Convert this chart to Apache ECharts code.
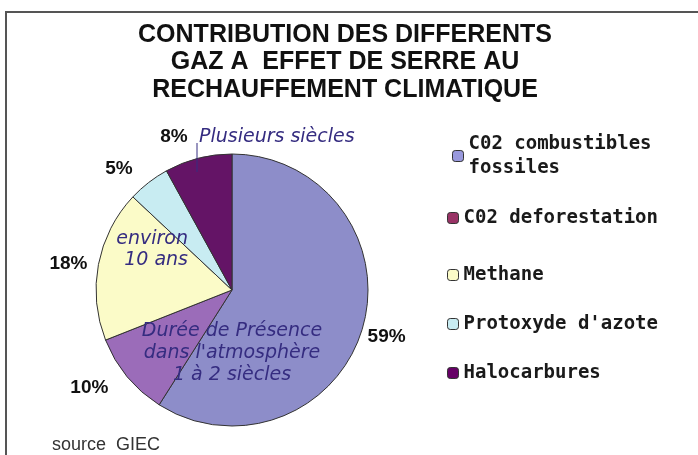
<!DOCTYPE html>
<html>
<head>
<meta charset="utf-8">
<script src="https://cdn.jsdelivr.net/npm/echarts@6/dist/echarts.min.js"></script>
<style>
  html, body { margin: 0; padding: 0; background: #fff; }
  #chart { width: 698px; height: 455px; }
</style>
</head>
<body>
<div id="chart"></div>
<script>
// gas names (legend order = slice order, clockwise from 12 o'clock)
const gazNames = ['C02 combustibles fossiles', 'C02 deforestation', 'Methane', "Protoxyde d'azote", 'Halocarbures']
// share of warming, %
const parts = [59, 10, 18, 5, 8]
const sliceColors = ['#8d8dc9', '#9b6cb9', '#fbfbc8', '#c8ecf2', '#641466']
const legendColors = ['#9999dd', '#993366', '#fbfbc8', '#c8ecf2', '#660066']
// how far each percent label sits off the rim
const labelOffsets = [0, 18, 6, 18, 22]
const legendTops = [120, 207, 264, 313, 362]
const legendLefts = [452, 447, 447, 447, 447]

const annotColor = '#352c80'
const annotFont = 'DejaVu Sans'

const myChart = echarts.init(document.getElementById('chart'))

const legendText = {
  fontFamily: 'DejaVu Sans Mono',
  fontWeight: 'bold',
  fontSize: 19,
  lineHeight: 22,
  color: '#1a1a1a'
}

let legends = []
gazNames.forEach((name, i) => {
  let ts = Object.assign({}, legendText)
  if (i === 0) {
    // two-line label, icon on the first line
    ts.lineHeight = 24
    ts.padding = [24, 0, 0, 0]
  }
  legends.push({
    data: [{ name: name, itemStyle: { color: legendColors[i], borderColor: '#333', borderWidth: 1 } }],
    left: legendLefts[i],
    top: legendTops[i],
    padding: 0,
    itemWidth: 11,
    itemHeight: 11,
    selectedMode: false,
    formatter: (n) => (n === gazNames[0] ? 'C02 combustibles\nfossiles' : n),
    textStyle: ts
  })
})

const option = {
  backgroundColor: '#fff',
  animation: false,
  title: {
    text: 'CONTRIBUTION DES DIFFERENTS\nGAZ A  EFFET DE SERRE AU\nRECHAUFFEMENT CLIMATIQUE',
    left: 345,
    top: 21,
    padding: 0,
    textAlign: 'center',
    textStyle: {
      fontFamily: 'Liberation Sans',
      fontWeight: 'bold',
      fontSize: 25,
      lineHeight: 27.5,
      color: '#111'
    }
  },
  legend: legends,
  series: [
    {
      type: 'pie',
      center: [232, 290],
      radius: 136,
      startAngle: 90,
      clockwise: true,
      avoidLabelOverlap: false,
      emphasis: { disabled: true },
      itemStyle: { borderColor: '#333', borderWidth: 1 },
      label: {
        position: 'outside',
        formatter: '{c}%',
        fontFamily: 'Liberation Sans',
        fontWeight: 'bold',
        fontSize: 19,
        color: '#111',
        distanceToLabelLine: 5
      },
      labelLine: { show: false, length2: 0 },
      labelLayout: (params) => (params.dataIndex === 0 ? { dy: 9 } : {}),
      data: gazNames.map((name, i) => ({
        name: name,
        value: parts[i],
        itemStyle: { color: sliceColors[i] },
        labelLine: { show: false, length: labelOffsets[i], length2: 0 }
      }))
    }
  ],
  graphic: [
    {
      type: 'rect',
      shape: { x: 6, y: 12, width: 800, height: 600 },
      style: { fill: 'none', stroke: '#555', lineWidth: 2 },
      silent: true
    },
    {
      type: 'line',
      shape: { x1: 197, y1: 143, x2: 197, y2: 172 },
      style: { stroke: annotColor, lineWidth: 1 },
      z: 100
    },
    {
      type: 'text',
      x: 199, y: 137,
      style: { text: 'Plusieurs siècles', font: 'italic 19px "' + annotFont + '"', fill: annotColor, verticalAlign: 'middle' },
      z: 100
    },
    {
      type: 'text',
      x: 188, y: 250,
      style: { text: 'environ\n10 ans', font: 'italic 19px "' + annotFont + '"', lineHeight: 21, fill: annotColor, align: 'right', verticalAlign: 'middle' },
      z: 100
    },
    {
      type: 'text',
      x: 232, y: 353,
      style: { text: 'Durée de Présence\ndans l\'atmosphère\n1 à 2 siècles', font: 'italic 19px "' + annotFont + '"', lineHeight: 22, fill: annotColor, align: 'center', verticalAlign: 'middle' },
      z: 100
    },
    {
      type: 'text',
      x: 52, y: 445,
      style: { text: 'source  GIEC', font: '18px "Liberation Sans"', fill: '#333', verticalAlign: 'middle' }
    }
  ]
}

myChart.setOption(option)
</script>
</body>
</html>
